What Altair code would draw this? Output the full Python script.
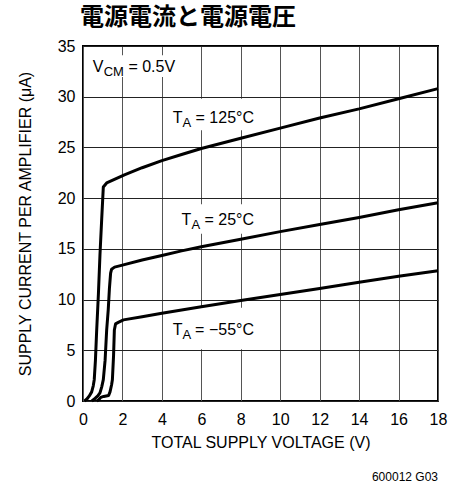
import altair as alt
import pandas as pd

# Supply current per amplifier (uA) versus total supply voltage (V)
v_125 = [0.08, 0.2, 0.32, 0.44, 0.52, 0.57, 0.63, 0.69, 0.78, 0.86, 0.95, 1.03, 1.2, 2.1,
         3, 4, 5, 6, 8, 10, 12, 14, 16, 18]
i_125 = [0, 0.2, 0.5, 0.9, 1.5, 2.1, 4, 6.8, 10.5, 14.4, 18, 21.1, 21.5, 22.3,
         23.0, 23.7, 24.3, 24.9, 25.9, 26.9, 27.9, 28.8, 29.8, 30.8]

v_25 = [0.45, 0.61, 0.75, 0.86, 0.95, 1.03, 1.12, 1.2, 1.28, 1.34, 1.4, 1.45, 1.6, 2,
        3, 4, 5, 6, 8, 10, 12, 14, 16, 18]
i_25 = [0, 0.25, 0.5, 0.8, 1.4, 2.1, 4, 7, 9, 11.1, 12.6, 13.0, 13.2, 13.4,
        13.9, 14.35, 14.8, 15.2, 15.95, 16.7, 17.4, 18.1, 18.85, 19.55]

v_m55 = [0.7, 0.78, 0.9, 1.05, 1.3, 1.37, 1.45, 1.49, 1.55, 1.59, 1.65, 1.79, 2.05,
         3, 4, 5, 6, 8, 10, 12, 14, 16, 18]
i_m55 = [0, 0.1, 0.35, 0.45, 0.55, 0.9, 1.6, 2.1, 4.5, 7, 7.6, 7.75, 8.0,
         8.3, 8.65, 8.98, 9.3, 9.9, 10.5, 11.1, 11.7, 12.3, 12.85]

series_names = ["125", "25", "-55"]
x_ticks = list(range(0, 19, 2))
y_ticks = list(range(0, 36, 5))

SANS = "Liberation Sans"

rows = []
for name, vs, cs in zip(series_names, [v_125, v_25, v_m55], [i_125, i_25, i_m55]):
    for k, (v, c) in enumerate(zip(vs, cs)):
        rows.append({"series": name, "order": k, "v": v, "i": c})
curves = pd.DataFrame(rows)

# annotation pieces: main letter, subscript, remainder (right aligned)
labels = pd.DataFrame({
    "main": ["V", "T", "T", "T"],
    "main_x": [0.5, 4.55, 5.0, 4.55],
    "main_y": [32.45, 27.39, 17.36, 6.51],
    "sub": ["CM", "A", "A", "A"],
    "sub_x": [1.05, 5.05, 5.5, 5.05],
    "sub_y": [32.05, 26.99, 16.96, 6.11],
    "rest": ["= 0.5V", "= 125°C", "= 25°C", "= \u221255°C"],
    "rest_x": [4.67, 8.67, 8.67, 8.67],
})
# white backing panels that break the grid behind each label
boxes = pd.DataFrame({
    "x": [0.25, 4.31, 4.82, 4.31],
    "x2": [4.92, 8.87, 8.87, 8.87],
    "y": [34.1, 29.8, 19.4, 9.2],
    "y2": [31.95, 26.7, 16.5, 5.1],
})

x_scale = alt.Scale(domain=[0, 18], nice=False)
y_scale = alt.Scale(domain=[0, 35], nice=False)

axis_style = dict(domain=False, ticks=False, labelOverlap=False, labelFlush=False,
                  labelFont=SANS, labelFontSize=16, labelColor="black",
                  titleFont=SANS, titleFontSize=16, titleFontWeight="normal",
                  titleColor="black", grid=True, gridWidth=1)
x_axis = alt.Axis(values=x_ticks, gridColor="#555", labelPadding=10,
                  title="TOTAL SUPPLY VOLTAGE (V)", titlePadding=7, **axis_style)
y_axis = alt.Axis(values=y_ticks, gridColor="#222", labelPadding=8,
                  title="SUPPLY CURRENT PER AMPLIFIER (\u03bcA)", titlePadding=24,
                  **axis_style)


def xq(field):
    return alt.X(field, type="quantitative", scale=x_scale, axis=x_axis)


def yq(field):
    return alt.Y(field, type="quantitative", scale=y_scale, axis=y_axis)


box_layer = alt.Chart(boxes).mark_rect(fill="white").encode(
    x=xq("x"), x2="x2:Q", y=yq("y"), y2="y2:Q",
)

line_layer = alt.Chart(curves).mark_line(color="black", strokeWidth=3,
                                          strokeJoin="round").encode(
    x=xq("v"), y=yq("i"), detail="series:N", order="order:Q",
)

base = alt.Chart(labels)
main_text = base.mark_text(font=SANS, fontSize=16, align="left",
                           baseline="alphabetic", color="black").encode(
    x=xq("main_x"), y=yq("main_y"), text="main:N")
sub_text = base.mark_text(font=SANS, fontSize=13, align="left",
                          baseline="alphabetic", color="black").encode(
    x=xq("sub_x"), y=yq("sub_y"), text="sub:N")
rest_text = base.mark_text(font=SANS, fontSize=16, align="right",
                           baseline="alphabetic", color="black").encode(
    x=xq("rest_x"), y=yq("main_y"), text="rest:N")

footer = alt.Chart(pd.DataFrame({"t": ["600012 G03"]})).mark_text(
    font=SANS, fontSize=12, align="right", baseline="alphabetic",
    color="black").encode(x=alt.value(355), y=alt.value(435), text="t:N")

chart = alt.layer(box_layer, line_layer, main_text, sub_text, rest_text, footer).properties(
    width=355, height=355,
    background="white",
    autosize=alt.AutoSizeParams(type="none"),
    padding={"left": 83, "top": 46, "right": 27, "bottom": 87},
    title=alt.TitleParams("電源電流と電源電圧", font="Noto Sans CJK JP", fontSize=24,
                          fontWeight="bold", anchor="start", frame="group",
                          dx=-3, offset=8, color="black"),
).configure_view(stroke="black", strokeWidth=2)

chart.save("out.html", embed_options={"renderer": "svg", "actions": False})
